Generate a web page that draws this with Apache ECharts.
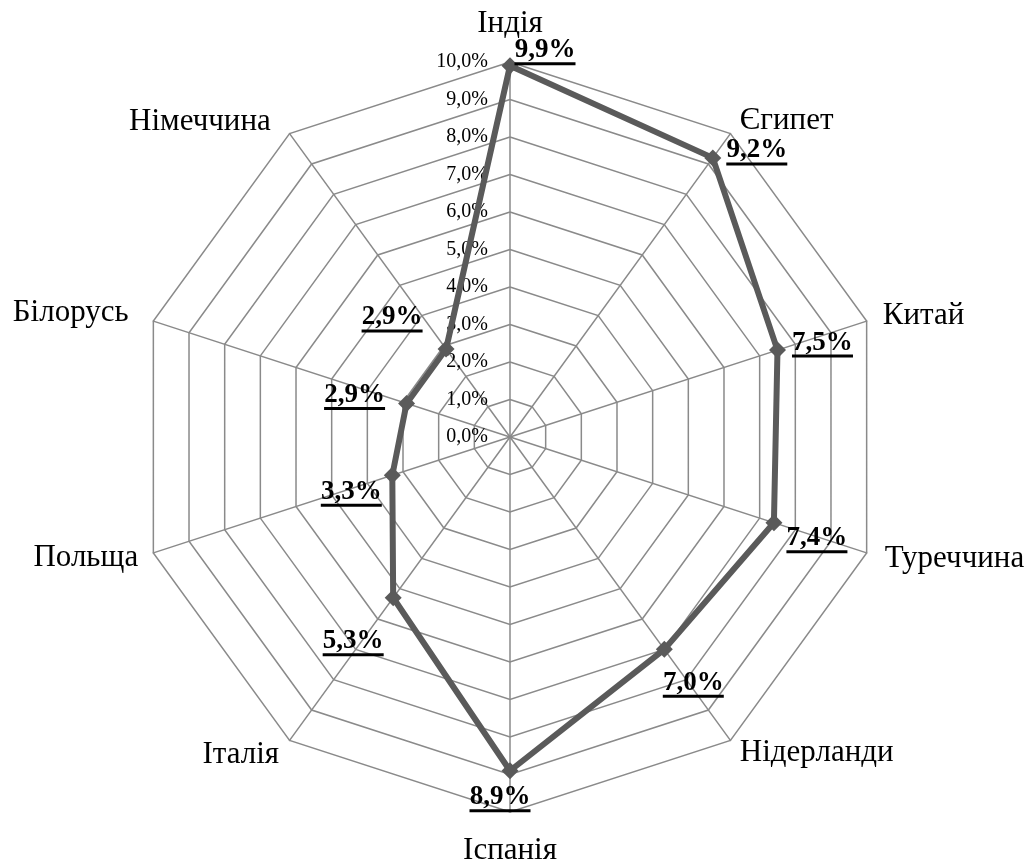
<!DOCTYPE html>
<html>
<head>
<meta charset="utf-8">
<script src="https://cdn.jsdelivr.net/npm/echarts@6/dist/echarts.min.js"></script>
<style>
  html, body { margin: 0; padding: 0; background: #fff; }
  #main { width: 1028px; height: 859px; }
</style>
</head>
<body>
<div id="main"></div>
<script>
// clockwise from the top, as in the picture
const countries = ['Індія', 'Єгипет', 'Китай', 'Туреччина', 'Нідерланди', 'Іспанія', 'Італія', 'Польща', 'Білорусь', 'Німеччина'];
const shares = [9.9, 9.2, 7.5, 7.4, 7.0, 8.9, 5.3, 3.3, 2.9, 2.9];

// label offsets from each point (clockwise order)
const labelOffsets = [[35, -14], [44, -6], [45, -6], [43, 17], [29, 35], [-10, 28], [-40, 45], [-41, 18], [-52, -7], [-54, -30]];
// name gap / padding per country name (clockwise order)
const nameGaps = [23, 16, 17, 19, 16, 23, 18, 16, 26, 15];
const namePads = [0, 0, 0, 0, 0, 0, 0, 0, 0, [10, 10, 0, 0]];

const font = "'Liberation Serif', 'Times New Roman', serif";
const fmt = v => v.toFixed(1).replace('.', ',') + '%';

// echarts radar goes counter-clockwise, so reverse everything after the first
const ord = [0].concat(countries.slice(1).map((_, i) => countries.length - 1 - i));
const indicators = ord.map((k, j) => {
  const ind = { name: countries[k], min: 0, max: 10, nameGap: nameGaps[k] };
  if (namePads[k]) ind.nameTextStyle = { padding: namePads[k] };
  if (j === 0) ind.axisLabel = { show: true };
  return ind;
});
const vals = ord.map(k => shares[k]);

const chart = echarts.init(document.getElementById('main'));
chart.setOption({
  animation: false,
  backgroundColor: '#fff',
  radar: {
    center: [510, 437],
    radius: 375,
    shape: 'polygon',
    splitNumber: 10,
    startAngle: 90,
    indicator: indicators,
    nameGap: 15,
    axisName: { color: '#000', fontFamily: font, fontSize: 31 },
    axisLine: { lineStyle: { color: '#8a8a8a', width: 1.5 } },
    splitLine: { lineStyle: { color: '#8a8a8a', width: 1.5 } },
    splitArea: { show: false },
    axisTick: { show: false },
    axisLabel: {
      show: false,
      color: '#000',
      fontFamily: font,
      fontSize: 20,
      margin: 22,
      formatter: v => fmt(v)
    }
  },
  series: [
    {
      type: 'radar',
      z: 2,
      symbol: 'diamond',
      symbolSize: 17,
      lineStyle: { color: '#5a5a5a', width: 6 },
      itemStyle: { color: '#5a5a5a' },
      data: [{ value: vals, name: 'share' }]
    },
    {
      type: 'radar',
      z: 5,
      symbol: 'circle',
      symbolSize: 1,
      lineStyle: { width: 0, opacity: 0 },
      itemStyle: { color: 'rgba(0,0,0,0)' },
      data: ord.map((k, j) => ({
        value: vals,
        label: {
          show: true,
          position: 'inside',
          offset: labelOffsets[k],
          opacity: 1,
          formatter: p => p.dimensionIndex === p.dataIndex ? '{v|' + fmt(p.value) + '}\n{u|}' : '',
          rich: {
            v: { color: '#000', fontFamily: font, fontSize: 27, fontWeight: 'bold', lineHeight: 24, align: 'center' },
            u: { width: 61, height: 3, lineHeight: 3, backgroundColor: '#000', align: 'center' }
          }
        }
      }))
    }
  ]
});
</script>
</body>
</html>
